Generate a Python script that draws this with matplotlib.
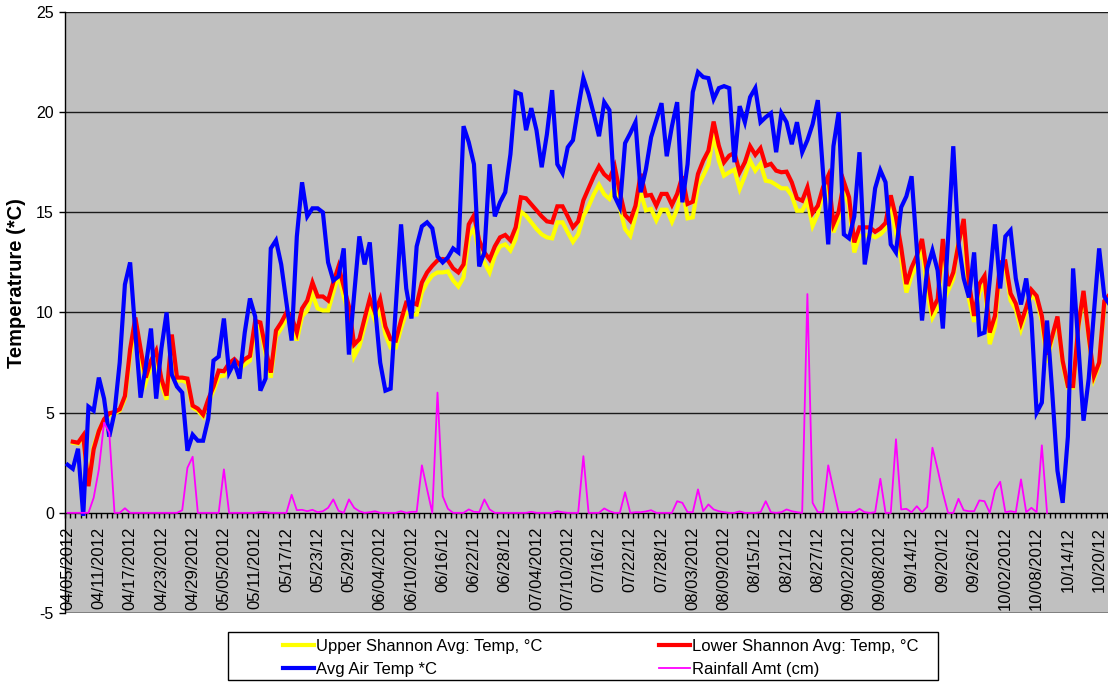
import numpy as np
import matplotlib
matplotlib.use("Agg")
import matplotlib.pyplot as plt
from matplotlib.patches import Rectangle
from matplotlib.ticker import FixedLocator

plt.rcParams['font.family'] = ['Liberation Sans', 'DejaVu Sans']
plt.rcParams['axes.unicode_minus'] = False

# Daily observations starting 04/05/2012 (one category per day)
air_temp = [
    2.4, 2.2, 3.2, -0.15, 5.3, 5.1, 6.75, 5.7, 3.8, 5.0,
    7.5, 11.4, 12.5, 9.0, 5.75, 7.3, 9.2, 5.7, 8.2, 10.0,
    6.9, 6.3, 6.0, 3.1, 3.9, 3.6, 3.6, 4.7, 7.6, 7.8,
    9.7, 7.0, 7.5, 6.7, 9.0, 10.7, 9.8, 6.1, 6.7, 13.2,
    13.6, 12.4, 10.5, 8.6, 13.8, 16.5, 14.8, 15.2, 15.2, 15.0,
    12.5, 11.6, 11.8, 13.2, 7.9, 10.9, 13.8, 12.4, 13.5, 10.3,
    7.5, 6.1, 6.2, 10.3, 14.4, 11.2, 9.7, 13.3, 14.3, 14.5,
    14.2, 12.8, 12.5, 12.75, 13.2, 13.0, 19.3, 18.5, 17.4, 12.3,
    13.0, 17.4, 14.8, 15.5, 16.0, 17.9, 21.0, 20.9, 19.1, 20.2,
    19.1, 17.25, 18.9, 21.1, 17.4, 16.95, 18.25, 18.6, 20.2, 21.7,
    20.9, 19.9, 18.8, 20.5, 20.1, 15.8, 15.25, 18.45, 18.95, 19.5,
    16.0, 17.15, 18.75, 19.6, 20.45, 17.8, 19.3, 20.5, 15.5, 17.4,
    21.0, 22.0, 21.75, 21.7, 20.65, 21.2, 21.3, 21.2, 17.5, 20.3,
    19.5, 20.75, 21.2, 19.5, 19.75, 19.95, 18.0, 19.95, 19.5, 18.4,
    19.5, 18.0, 18.6, 19.4, 20.6, 17.0, 13.4, 18.3, 20.0, 13.9,
    13.7, 14.8, 18.0, 12.4, 14.0, 16.2, 17.1, 16.5, 13.4, 13.0,
    15.25, 15.8, 16.8, 13.2, 9.6, 12.2, 13.1, 12.1, 9.2, 13.7,
    18.3, 13.5, 11.7, 10.75, 13.0, 8.9, 9.0, 11.6, 14.4, 11.2,
    13.8, 14.1, 11.7, 10.4, 11.7, 9.7, 5.0, 5.5, 9.6, 6.0,
    2.1, 0.5, 3.8, 12.2, 8.4, 4.6, 6.7, 10.0, 13.2, 10.8,
    10.4,
]

lower_shannon = [
    None, 3.55, 3.5, 3.87, 1.33, 3.17, 4.08, 4.67, 4.97, 5.03,
    5.17, 5.83, 8.17, 9.75, 8.2, 6.75, 7.6, 8.1, 6.7, 5.85,
    8.9, 6.75, 6.75, 6.7, 5.35, 5.2, 4.9, 5.67, 6.3, 7.1,
    7.07, 7.47, 7.67, 7.4, 7.67, 7.83, 9.58, 9.5, 8.2, 7.0,
    9.1, 9.5, 10.0, 9.8, 9.0, 10.2, 10.6, 11.5, 10.8, 10.8,
    10.6, 11.5, 12.3, 11.3, 10.3, 8.4, 8.67, 9.7, 10.7, 10.0,
    10.67, 9.3, 8.67, 8.6, 9.6, 10.5, 10.5, 10.4, 11.5, 12.0,
    12.33, 12.6, 12.67, 12.6, 12.2, 12.0, 12.4, 14.4, 14.85, 13.6,
    13.0, 12.65, 13.3, 13.75, 13.87, 13.6, 14.25, 15.75, 15.7, 15.4,
    15.1, 14.8, 14.55, 14.5, 15.3, 15.3, 14.8, 14.25, 14.55, 15.6,
    16.2, 16.8, 17.3, 16.9, 16.67, 17.3, 16.0, 14.87, 14.58, 15.33,
    16.92, 15.83, 15.87, 15.33, 15.92, 15.92, 15.37, 15.92, 16.8, 15.42,
    15.53, 16.92, 17.58, 18.08, 19.53, 18.33, 17.5, 17.83, 17.97, 17.0,
    17.5, 18.3, 17.87, 18.2, 17.33, 17.42, 17.08, 17.0, 17.03, 16.5,
    15.7, 15.58, 16.25, 14.97, 15.33, 16.25, 16.83, 14.42, 15.03, 16.53,
    15.75, 13.5, 14.25, 14.25, 14.25, 14.03, 14.2, 14.47, 15.85, 14.75,
    13.25, 11.42, 12.25, 12.83, 13.67, 11.9, 10.13, 10.67, 13.67, 11.33,
    12.0, 13.42, 14.67, 11.5, 9.83, 11.42, 11.83, 9.0, 9.83, 12.5,
    12.55, 10.95, 10.45, 9.47, 10.25, 11.13, 10.83, 9.83, 7.9, 8.83,
    9.8, 7.58, 6.33, 6.33, 9.33, 11.08, 8.83, 6.83, 7.5, 10.58,
    10.9,
]

upper_shannon = [
    None, 3.5, 3.45, 3.8, 1.4, 3.3, 4.1, 4.6, 4.9, 4.95,
    5.1, 5.7, 7.9, 9.3, 7.7, 6.5, 7.3, 7.8, 6.4, 5.65,
    8.6, 6.6, 6.6, 6.5, 5.25, 5.1, 4.8, 5.5, 6.1, 6.8,
    6.85, 7.3, 7.4, 7.2, 7.4, 7.6, 9.2, 9.3, 7.9, 6.75,
    8.8, 9.2, 9.7, 9.6, 8.6, 9.8, 10.1, 10.9, 10.2, 10.1,
    10.1, 11.0, 11.9, 10.8, 9.9, 7.8, 8.3, 9.3, 10.25, 9.6,
    10.2, 8.9, 8.25, 8.25, 9.2, 10.0, 9.9, 9.9, 11.0, 11.5,
    11.85, 12.0, 12.0, 12.05, 11.6, 11.3, 11.75, 13.8, 14.2, 13.0,
    12.5, 12.0, 12.83, 13.3, 13.4, 13.1, 13.67, 15.03, 14.83, 14.5,
    14.17, 13.9, 13.75, 13.7, 14.5, 14.5, 14.0, 13.53, 13.9, 14.8,
    15.3, 15.9, 16.37, 15.9, 15.67, 16.25, 15.2, 14.17, 13.83, 14.8,
    16.0, 15.1, 15.17, 14.6, 15.13, 15.13, 14.53, 15.17, 16.25, 14.7,
    14.75, 16.33, 16.83, 17.37, 18.9, 17.58, 16.83, 17.0, 17.13, 16.17,
    16.83, 17.58, 17.08, 17.42, 16.58, 16.53, 16.37, 16.2, 16.2, 15.83,
    15.08, 15.08, 15.58, 14.33, 14.92, 16.0, 16.3, 14.0, 14.67, 16.08,
    15.33, 13.0, 13.83, 13.83, 13.9, 13.75, 13.9, 14.17, 15.33, 14.0,
    12.67, 11.0, 11.83, 12.33, 13.33, 11.0, 9.75, 10.25, 13.33, 11.08,
    11.67, 13.67, 14.33, 10.67, 9.53, 11.0, 11.42, 8.42, 9.33, 12.25,
    12.25, 10.6, 10.15, 9.17, 10.0, 10.92, 10.6, 9.6, 7.5, 8.7,
    9.7, 7.45, 6.25, 6.25, 9.2, 10.95, 8.7, 6.7, 7.4, 10.4,
    10.7,
]

rainfall_cm = [
    0, 0, 0, 0, 0, 0.75, 2.17, 4.5, 4.0, 0,
    0, 0.23, 0, 0, 0, 0, 0, 0, 0, 0,
    0, 0, 0.13, 2.25, 2.8, 0, 0, 0, 0, 0,
    2.17, 0, 0, 0, 0, 0, 0, 0.03, 0.03, 0,
    0, 0, 0, 0.9, 0.13, 0.15, 0.08, 0.15, 0.03, 0.08,
    0.25, 0.67, 0.1, 0, 0.67, 0.25, 0.08, 0, 0.03, 0.08,
    0, 0, 0, 0, 0.08, 0, 0.05, 0.05, 2.37, 1.17,
    0, 6.0, 0.83, 0.2, 0, 0, 0, 0.17, 0.05, 0.03,
    0.67, 0.17, 0, 0, 0, 0, 0, 0, 0, 0.05,
    0, 0, 0, 0, 0.08, 0.03, 0, 0, 0, 2.83,
    0, 0, 0, 0.22, 0.08, 0, 0, 1.03, 0, 0.03,
    0.03, 0.07, 0.13, 0, 0, 0, 0, 0.58, 0.5, 0.03,
    0.03, 1.17, 0.08, 0.42, 0.17, 0.08, 0.03, 0, 0, 0.07,
    0, 0, 0, 0.03, 0.58, 0.03, 0, 0.03, 0.17, 0.08,
    0.03, 0, 10.92, 0.5, 0.03, 0.03, 2.37, 1.17, 0.03, 0.03,
    0.03, 0.03, 0.2, 0.03, 0, 0.03, 1.7, 0, 0, 3.67,
    0.17, 0.2, 0.03, 0.33, 0.03, 0.3, 3.25, 2.17, 1.0, 0,
    0, 0.7, 0.13, 0.08, 0.08, 0.62, 0.58, 0, 1.13, 1.55,
    0.03, 0.08, 0.03, 1.67, 0.03, 0.25, 0.03, 3.37, 0,
]

tick_labels = [
    "04/05/2012", "04/11/2012", "04/17/2012", "04/23/2012", "04/29/2012",
    "05/05/2012", "05/11/2012", "05/17/12", "05/23/12", "05/29/12",
    "06/04/2012", "06/10/2012", "06/16/12", "06/22/12", "06/28/12",
    "07/04/2012", "07/10/2012", "07/16/12", "07/22/12", "07/28/12",
    "08/03/2012", "08/09/2012", "08/15/12", "08/21/12", "08/27/12",
    "09/02/2012", "09/08/2012", "09/14/12", "09/20/12", "09/26/12",
    "10/02/2012", "10/08/2012", "10/14/12", "10/20/12",
]
label_every = 6

air = np.array(air_temp, dtype=float)
lower = np.array(lower_shannon, dtype=float)
upper = np.array(upper_shannon, dtype=float)
rain = np.array(rainfall_cm, dtype=float)

W, H = 1108, 683
fig = plt.figure(figsize=(W / 100, H / 100), dpi=100)
ax = fig.add_axes([65 / W, 70 / H, (W - 65) / W, 601 / H])
ax.set_facecolor('#C0C0C0')

# horizontal gridlines
for yv in (5, 10, 15, 20, 25):
    ax.axhline(yv, color='#1a1a1a', lw=1.0, zorder=1)
ax.axhline(-5, color='#7a7a7a', lw=2.0, zorder=1)

x_air = np.arange(len(air))
x_lower = np.arange(len(lower))
x_upper = np.arange(len(upper))
x_rain = np.arange(len(rain))

l_up, = ax.plot(x_upper, upper, color='#FFFF00', lw=3.0, zorder=3,
                label='Upper Shannon Avg: Temp, °C', solid_joinstyle='miter')
l_lo, = ax.plot(x_lower, lower, color='#FF0000', lw=3.0, zorder=4,
                label='Lower Shannon Avg: Temp, °C', solid_joinstyle='miter')
l_air, = ax.plot(x_air, air, color='#0000FF', lw=3.0, zorder=5,
                 label='Avg Air Temp *C', solid_joinstyle='miter')
l_rain, = ax.plot(x_rain, rain, color='#FF00FF', lw=1.3, zorder=6,
                  label='Rainfall Amt (cm)')

ax.set_xlim(-0.5, 199.7)
ax.set_ylim(-5, 25)

# axes lines
for s in ('top', 'right'):
    ax.spines[s].set_visible(False)
ax.spines['left'].set_color('black')
ax.spines['left'].set_linewidth(1.0)
ax.spines['bottom'].set_position(('data', 0))
ax.spines['bottom'].set_color('black')
ax.spines['bottom'].set_linewidth(1.0)
ax.spines['bottom'].set_zorder(2)

# y axis
ax.set_yticks(np.arange(-5, 26, 5))
ax.tick_params(axis='y', direction='out', length=4, width=1, labelsize=11.5,
               pad=4, colors='black')

# category axis: a tick between every day, a label every 6th day
n_cat = len(air) + 1
label_pos = np.arange(len(tick_labels)) * label_every
ax.xaxis.set_major_locator(FixedLocator(label_pos))
ax.set_xticklabels(tick_labels, rotation=90, fontsize=12)
ax.xaxis.set_minor_locator(FixedLocator(np.arange(n_cat) - 0.5))
ax.tick_params(axis='x', which='major', length=0, pad=10)
ax.tick_params(axis='x', which='minor', direction='out', length=3.5, width=1,
               color='black')

fig.text(17 / W, 1 - 283 / H, 'Temperatrure (*C)', rotation=90, fontsize=14.5,
         fontweight='bold', ha='center', va='center')

# legend with its own frame
fig.patches.append(Rectangle((228 / W, 3 / H), (938 - 228) / W, 48 / H,
                             transform=fig.transFigure, facecolor='white',
                             edgecolor='black', lw=1.0, zorder=0))
leg = fig.legend(handles=[l_up, l_air, l_lo, l_rain], ncol=2, frameon=False,
                 loc='upper left', bbox_to_anchor=(283 / W, 1 - 639 / H),
                 borderpad=0, borderaxespad=0, fontsize=12, handlelength=1.85,
                 handletextpad=0.12, columnspacing=7.0, labelspacing=0.48)
for h in leg.legend_handles:
    h.set_linewidth(3.0 if h.get_color() != '#FF00FF' else 1.3)

fig.savefig('out.png', dpi=100, facecolor='white')
